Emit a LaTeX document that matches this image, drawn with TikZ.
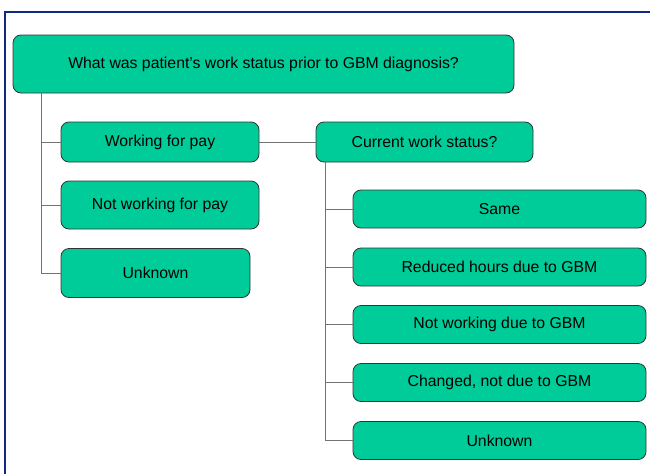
\documentclass[tikz,border=0pt]{standalone}
\usepackage{fontspec}
\setmainfont{Liberation Sans}
\definecolor{boxgreen}{RGB}{0,204,153}
\definecolor{frameblue}{RGB}{14,42,128}
\begin{document}
\begin{tikzpicture}[x=1pt,y=-1pt,
  box/.style={draw=black!80, line width=0.8pt, rounded corners=8pt, fill=boxgreen, inner sep=0pt, font=\fontsize{15.8}{18}\selectfont},
  link/.style={draw=black!55, line width=1pt}]
\useasboundingbox (0,0) rectangle (650,474);
\draw[line width=2.5pt, draw=frameblue] (5,474) -- (5,12) -- (650,12);

% first question and its answers
\node[box, minimum width=501pt, minimum height=58pt] (prior) at (263.5,64) {What was patient’s work status prior to GBM diagnosis?};
\node[box, minimum width=198pt, minimum height=40pt] (paid) at (160,142) {Working for pay};
\node[box, minimum width=198pt, minimum height=48pt] (notpaid) at (160,205) {Not working for pay};
\node[box, minimum width=189pt, minimum height=49pt] (unk) at (155.5,273) {Unknown};

% second question and its answers
\node[box, minimum width=217pt, minimum height=40pt] (current) at (424.5,142) {Current work status?};
\node[box, minimum width=293pt, minimum height=38pt] (same) at (499.5,209) {Same};
\node[box, minimum width=293pt, minimum height=38pt] (reduced) at (499.5,267) {Reduced hours due to GBM};
\node[box, minimum width=293pt, minimum height=38pt] (notgbm) at (499.5,324.5) {Not working due to GBM};
\node[box, minimum width=293pt, minimum height=38pt] (changed) at (499.5,382.5) {Changed, not due to GBM};
\node[box, minimum width=293pt, minimum height=38pt] (unk2) at (499.5,440.5) {Unknown};

\foreach \n in {paid,notpaid,unk}
  \draw[link] ([xshift=29pt]prior.south west) |- (\n.west);
\foreach \n in {same,reduced,notgbm,changed,unk2}
  \draw[link] ([xshift=10pt]current.south west) |- (\n.west);
\draw[link] (paid) -- (current);
\end{tikzpicture}
\end{document}
